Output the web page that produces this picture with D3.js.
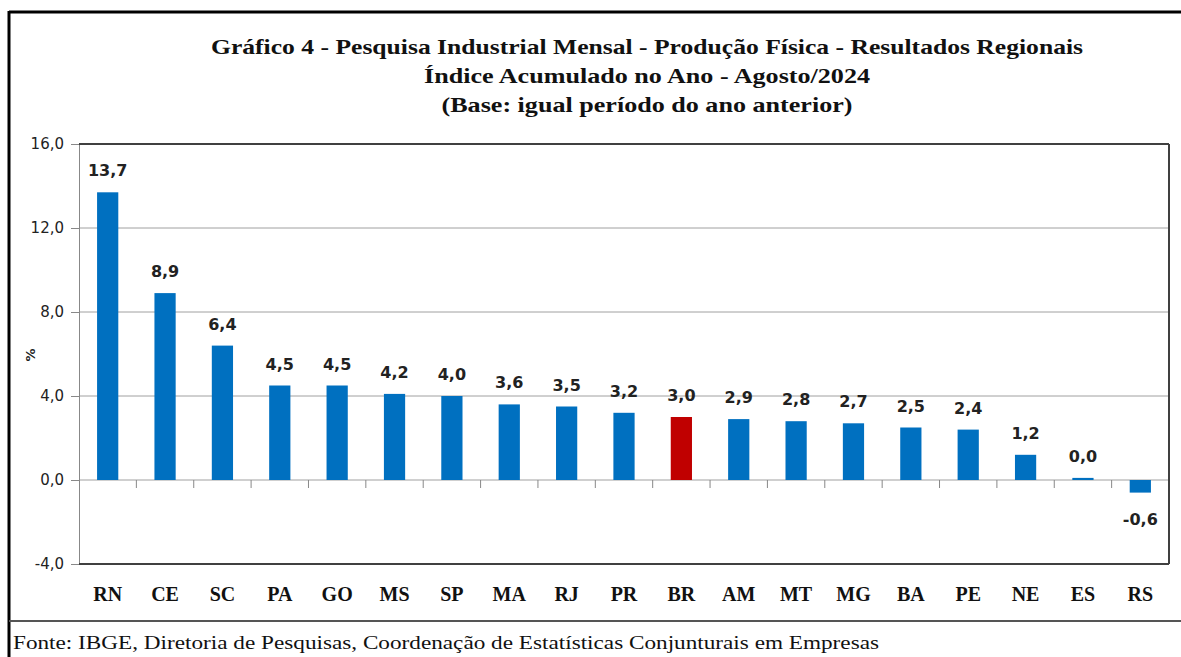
<!DOCTYPE html>
<html>
<head>
<meta charset="utf-8">
<script src="https://cdn.jsdelivr.net/npm/d3@7"></script>
<style>
  html, body { margin: 0; padding: 0; background: #fff; overflow: hidden; }
  svg { display: block; width: 100vw; height: auto; max-height: 100vh; }
</style>
</head>
<body>
<svg viewBox="0 0 1181 657" preserveAspectRatio="xMidYMid meet"></svg>
<script>
const svg = d3.select('svg');
const width = 1181;
const height = 657;

// data
const regions = ['RN', 'CE', 'SC', 'PA', 'GO', 'MS', 'SP', 'MA', 'RJ', 'PR', 'BR', 'AM', 'MT', 'MG', 'BA', 'PE', 'NE', 'ES', 'RS'];
const values = [13.7, 8.9, 6.4, 4.5, 4.5, 4.1, 4.0, 3.6, 3.5, 3.2, 3.0, 2.9, 2.8, 2.7, 2.5, 2.4, 1.2, 0.1, -0.6];
const valueLabels = ['13,7', '8,9', '6,4', '4,5', '4,5', '4,2', '4,0', '3,6', '3,5', '3,2', '3,0', '2,9', '2,8', '2,7', '2,5', '2,4', '1,2', '0,0', '-0,6'];
const yTicks = [-4, 0, 4, 8, 12, 16];
const titleLines = [
  'Gráfico 4 - Pesquisa Industrial Mensal - Produção Física - Resultados Regionais',
  'Índice Acumulado no Ano - Agosto/2024',
  '(Base: igual período do ano anterior)'
];
const source = 'Fonte: IBGE, Diretoria de Pesquisas, Coordenação de Estatísticas Conjunturais em Empresas';

const data = regions.map((r, i) => ({ region: r, value: values[i], label: valueLabels[i] }));
const fmt = v => v.toFixed(1).replace('.', ',');

const margin = { top: 144, right: 12, bottom: 93, left: 79 };
const innerWidth = width - margin.left - margin.right;
const innerHeight = height - margin.top - margin.bottom;

const serif = '"Liberation Serif", "DejaVu Serif", serif';
const sans = '"DejaVu Sans", Verdana, sans-serif';

// outer frame
svg.append('line').attr('x1', 9).attr('x2', width).attr('y1', 12).attr('y2', 12)
   .attr('stroke', '#000').attr('stroke-width', 3);
svg.append('line').attr('x1', 9).attr('x2', 9).attr('y1', 11).attr('y2', height)
   .attr('stroke', '#000').attr('stroke-width', 3);
svg.append('line').attr('x1', 9).attr('x2', width).attr('y1', 621).attr('y2', 621)
   .attr('stroke', '#555').attr('stroke-width', 2);

// title
svg.append('g').selectAll('text').data(titleLines).enter().append('text')
   .attr('x', 647)
   .attr('y', (d, i) => 54 + i * 29)
   .attr('text-anchor', 'middle')
   .attr('font-family', serif)
   .attr('font-weight', 'bold')
   .attr('font-size', 21)
   .attr('fill', '#111')
   .attr('textLength', (d, i) => [872, 446, 411][i])
   .attr('lengthAdjust', 'spacingAndGlyphs')
   .text(d => d);

// footer
svg.append('text')
   .attr('x', 13).attr('y', 649)
   .attr('font-family', serif)
   .attr('font-size', 19)
   .attr('fill', '#111')
   .attr('textLength', 866)
   .attr('lengthAdjust', 'spacingAndGlyphs')
   .text(source);

// scales in page coordinates
const xScale = d3.scaleBand()
                 .domain(regions)
                 .range([margin.left, margin.left + innerWidth])
                 .paddingInner(0.63)
                 .paddingOuter(0.315);

const yScale = d3.scaleLinear()
                 .domain([-4, 16])
                 .range([margin.top + innerHeight, margin.top]);

const x0 = margin.left, x1 = margin.left + innerWidth;

// gridlines
svg.append('g').selectAll('line').data(yTicks.filter(t => t > -4 && t < 16)).enter().append('line')
   .attr('x1', x0).attr('x2', x1)
   .attr('y1', d => yScale(d)).attr('y2', d => yScale(d))
   .attr('stroke', '#a0a0a0').attr('stroke-width', 1);

// y axis (lines from the axis, labels as plain texts)
const yAxis = d3.axisLeft(yScale)
                .tickValues(yTicks)
                .tickSize(8)
                .tickFormat('');
const yG = svg.append('g').attr('transform', `translate(${x0},0)`).call(yAxis);
yG.select('.domain').attr('stroke', '#888');
yG.selectAll('.tick line').attr('stroke', '#888');

svg.append('g').selectAll('text').data(yTicks).enter().append('text')
   .attr('x', x0 - 15)
   .attr('y', d => yScale(d) + 5)
   .attr('text-anchor', 'end')
   .attr('font-family', sans)
   .attr('font-size', 15)
   .attr('fill', '#222')
   .text(fmt);

// x ticks on the zero line, between categories
const step = xScale.step();
const bounds = regions.slice(1).map(r => xScale(r) - xScale.paddingInner() * step / 2);
svg.append('g').selectAll('line').data(bounds).enter().append('line')
   .attr('x1', d => d).attr('x2', d => d)
   .attr('y1', yScale(0)).attr('y2', yScale(0) + 8)
   .attr('stroke', '#888');

// bars
svg.selectAll('rect.bar').data(data)
   .enter().append('rect')
      .attr('class', 'bar')
      .attr('x', d => xScale(d.region))
      .attr('y', d => yScale(Math.max(0, d.value)))
      .attr('width', xScale.bandwidth())
      .attr('height', d => Math.abs(yScale(d.value) - yScale(0)))
      .attr('fill', d => d.region === 'BR' ? '#c00000' : '#0070c0');

// plot frame
const yTop = yScale(16), yBot = yScale(-4);
svg.append('line').attr('x1', x0).attr('x2', x1).attr('y1', yTop).attr('y2', yTop)
   .attr('stroke', '#404040').attr('stroke-width', 2);
svg.append('line').attr('x1', x1).attr('x2', x1).attr('y1', yTop).attr('y2', yBot)
   .attr('stroke', '#404040').attr('stroke-width', 2);
svg.append('line').attr('x1', x0).attr('x2', x1).attr('y1', yBot).attr('y2', yBot)
   .attr('stroke', '#404040').attr('stroke-width', 2);

// value labels
svg.selectAll('text.val').data(data)
   .enter().append('text')
      .attr('class', 'val')
      .attr('x', d => xScale(d.region) + xScale.bandwidth() / 2)
      .attr('y', d => d.value >= 0 ? yScale(d.value) - 16 : yScale(d.value) + 32)
      .attr('text-anchor', 'middle')
      .attr('font-family', sans)
      .attr('font-weight', 'bold')
      .attr('font-size', 16)
      .attr('fill', '#222')
      .text(d => d.label);

// category labels
svg.selectAll('text.cat').data(data)
   .enter().append('text')
      .attr('class', 'cat')
      .attr('x', d => xScale(d.region) + xScale.bandwidth() / 2)
      .attr('y', yBot + 37)
      .attr('text-anchor', 'middle')
      .attr('font-family', serif)
      .attr('font-weight', 'bold')
      .attr('font-size', 20)
      .attr('fill', '#111')
      .text(d => d.region);

// y label
svg.append('text')
   .attr('transform', 'translate(35, 355) rotate(-90)')
   .attr('text-anchor', 'middle')
   .attr('font-family', sans)
   .attr('font-weight', 'bold')
   .attr('font-size', 13)
   .attr('fill', '#222')
   .text('%');
</script>
</body>
</html>
